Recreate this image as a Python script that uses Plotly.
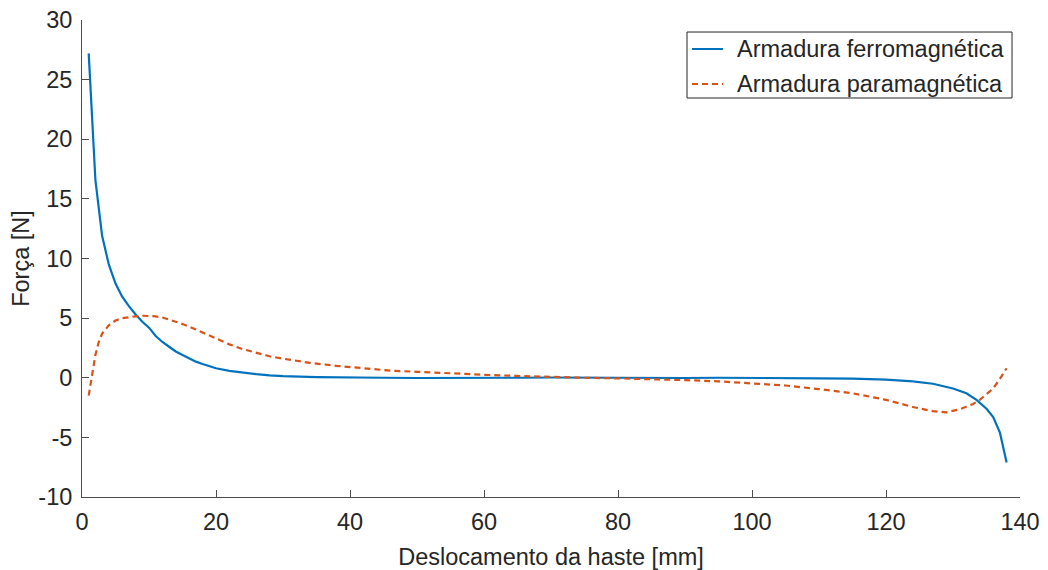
import plotly.graph_objects as go

# Ferromagnetic armature
x_ferro = [1, 2, 3, 4, 5, 6, 7, 8, 9, 10, 11, 12, 13, 14, 15, 16, 17, 18, 19, 20,
           22, 24, 26, 28, 30, 35, 40, 45, 50, 55, 60, 65, 70, 75, 80, 85, 90, 95,
           100, 105, 110, 115, 120, 124, 127, 130, 132, 133.5, 135, 136, 137, 138]
y_ferro = [27.2, 16.6, 11.9, 9.5, 7.9, 6.8, 6.0, 5.3, 4.7, 4.2, 3.5, 3.0, 2.6, 2.2, 1.9,
           1.6, 1.35, 1.15, 0.95, 0.8, 0.58, 0.42, 0.3, 0.2, 0.13, 0.05, 0.0, 0.0,
           -0.02, -0.03, -0.02, 0.0, 0.02, 0.0, 0.02, 0.0, -0.02, 0.0, 0.0, 0.0,
           -0.05, -0.08, -0.15, -0.3, -0.5, -0.9, -1.3, -1.85, -2.6, -3.3, -4.6, -7.1]

# Paramagnetic armature
x_para = [1, 1.5, 2, 2.5, 3, 4, 5, 6, 7, 8, 9, 10, 11, 12, 13, 14, 15, 16, 17, 18,
          20, 22, 24, 26, 28, 30, 34, 38, 42, 46, 50, 55, 60, 65, 70, 75, 80, 85,
          90, 95, 100, 105, 110, 115, 120, 124, 127, 129, 131, 133, 134, 135, 136,
          137, 138]
y_para = [-1.5, 0.1, 1.9, 3.0, 3.7, 4.4, 4.8, 5.0, 5.1, 5.15, 5.2, 5.2, 5.15, 5.05,
          4.9, 4.7, 4.5, 4.3, 4.05, 3.8, 3.3, 2.8, 2.4, 2.1, 1.8, 1.6, 1.25, 1.0,
          0.8, 0.6, 0.5, 0.35, 0.25, 0.15, 0.05, 0.0, -0.05, -0.1, -0.2, -0.3,
          -0.45, -0.65, -0.95, -1.3, -1.85, -2.45, -2.8, -2.9, -2.65, -2.2, -1.85,
          -1.4, -0.9, -0.1, 0.8]

x_ticks = [0, 20, 40, 60, 80, 100, 120, 140]
y_ticks = [-10, -5, 0, 5, 10, 15, 20, 25, 30]
y_tick_labels = ["-10", "-5", "0", "5", "10", "15", "20", "25", "30"]

name_ferro = "Armadura ferromagnética"
name_para = "Armadura paramagnética"
x_title = "Deslocamento da haste [mm]"
y_title = "Força [N]"

FONT = "Liberation Sans, Arial, sans-serif"
FS = 23.5
TXT = "#262626"
AX = "#4d4d4d"
C_FERRO = "#0072BD"
C_PARA = "#D95319"
DASH = "6px,4px"

fig = go.Figure()
fig.add_trace(go.Scatter(x=x_ferro, y=y_ferro, mode="lines", name=name_ferro,
                         line=dict(color=C_FERRO, width=2.2)))
fig.add_trace(go.Scatter(x=x_para, y=y_para, mode="lines", name=name_para,
                         line=dict(color=C_PARA, width=2.2, dash=DASH)))

# legend box drawn in paper (plot-area fraction) coordinates, MATLAB style
LX0, LX1, LY0, LY1 = 0.645, 0.9915, 0.8365, 0.9748
ROW_Y = [0.9392, 0.8658]
SAMPLE_X = [0.6503, 0.6834]
TEXT_X = 0.6962
shapes = [dict(type="rect", xref="paper", yref="paper", x0=LX0, x1=LX1, y0=LY0, y1=LY1,
               line=dict(color="#262626", width=1), fillcolor="white", layer="above")]
annotations = []
for ry, nm, col, dsh in zip(ROW_Y, [name_ferro, name_para], [C_FERRO, C_PARA],
                            ["solid", DASH]):
    shapes.append(dict(type="line", xref="paper", yref="paper", x0=SAMPLE_X[0],
                       x1=SAMPLE_X[1], y0=ry, y1=ry, layer="above",
                       line=dict(color=col, width=2.2, dash=dsh)))
    annotations.append(dict(xref="paper", yref="paper", x=TEXT_X, y=ry, text=nm,
                            showarrow=False, xanchor="left", yanchor="middle",
                            font=dict(family=FONT, size=FS, color=TXT)))

# the page body has an 8px margin, so the figure is shifted by (8, 8)
fig.update_layout(
    width=1040, height=562,
    margin=dict(l=74, r=28, t=12, b=73),
    paper_bgcolor="white", plot_bgcolor="white",
    font=dict(family=FONT, size=FS, color=TXT),
    showlegend=False,
    shapes=shapes,
    annotations=annotations,
)
fig.update_xaxes(range=[0, 140], tickvals=x_ticks, showgrid=False, zeroline=False,
                 showline=True, linecolor=AX, linewidth=1, ticks="inside",
                 ticklen=7, tickcolor=AX, mirror=False, automargin=False,
                 ticklabelstandoff=4, ticklabeloverflow="allow",
                 tickfont=dict(family=FONT, size=FS, color=TXT),
                 title=dict(text=x_title, font=dict(family=FONT, size=FS, color=TXT),
                            standoff=15))
fig.update_yaxes(range=[-10, 30], tickvals=y_ticks, ticktext=y_tick_labels,
                 showgrid=False, zeroline=False,
                 showline=True, linecolor=AX, linewidth=1, ticks="inside",
                 ticklen=7, tickcolor=AX, mirror=False, automargin=False,
                 ticklabelstandoff=4, ticklabeloverflow="allow",
                 tickfont=dict(family=FONT, size=FS, color=TXT),
                 title=dict(text=y_title, font=dict(family=FONT, size=FS, color=TXT),
                            standoff=4))

fig.write_html("out.html")
